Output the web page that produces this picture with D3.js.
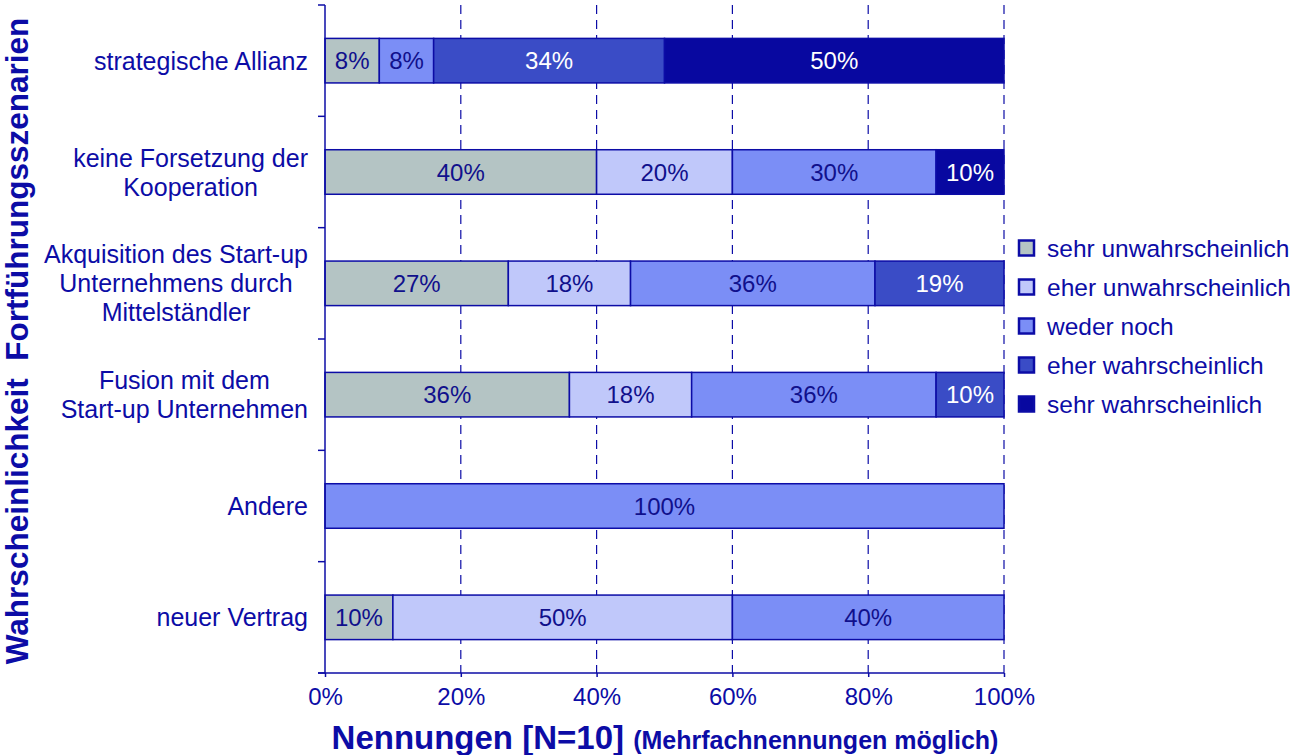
<!DOCTYPE html>
<html><head><meta charset="utf-8">
<script src="https://cdn.jsdelivr.net/npm/d3@7"></script>
<style>
body{margin:0;background:#fff;}
text{font-family:"Liberation Sans",Arial,sans-serif;}
</style></head>
<body><svg id="c" width="1294" height="755"></svg>
<script>
const categories = [
  ["strategische Allianz"],
  ["keine Forsetzung der","Kooperation"],
  ["Akquisition des Start-up","Unternehmens durch","Mittelständler"],
  ["Fusion mit dem","Start-up Unternehmen"],
  ["Andere"],
  ["neuer Vertrag"]
];
const seriesNames = ["sehr unwahrscheinlich","eher unwahrscheinlich","weder noch","eher wahrscheinlich","sehr wahrscheinlich"];
const sehrUnw   = [8, 40, 27, 36, 0, 10];
const eherUnw   = [0, 20, 18, 18, 0, 50];
const wederNoch = [8, 30, 36, 36, 100, 40];
const eherWahr  = [34, 0, 19, 10, 0, 0];
const sehrWahr  = [50, 10, 0, 0, 0, 0];
const xTicks = [0, 20, 40, 60, 80, 100];

const series = [sehrUnw, eherUnw, wederNoch, eherWahr, sehrWahr];
const colors = ["#b4c4c4","#c0c8fa","#7b8ef6","#3a4cc6","#0808a0"];
const labelColors = ["#10108c","#10108c","#10108c","#ffffff","#ffffff"];
const navy = "#0c0ca6";
const FS = 25;

const svg = d3.select("#c");
const m = {left:325, right:1004, top:5, bottom:673};
const x = d3.scaleLinear().domain([0,100]).range([m.left, m.right]);
const y = d3.scaleBand().domain(d3.range(categories.length)).range([m.top, m.bottom]).paddingInner(0.6).paddingOuter(0.3);

// gridlines
svg.append("g").selectAll("line").data(xTicks.filter(d=>d>0)).join("line")
  .attr("x1", d=>x(d)).attr("x2", d=>x(d)).attr("y1", m.top).attr("y2", m.bottom)
  .attr("stroke", navy).attr("stroke-width",1.2).attr("stroke-dasharray","9,6");

// stacked data
const rows = categories.map((c,i)=>{ const o={}; series.forEach((s,k)=>o[k]=s[i]); return o; });
const stack = d3.stack().keys(d3.range(series.length))(rows);

const g = svg.append("g");
stack.forEach((layer,k)=>{
  layer.forEach((d,i)=>{
    if (d[1]-d[0] <= 0) return;
    g.append("rect").attr("x", x(d[0])).attr("y", y(i)).attr("width", x(d[1])-x(d[0])).attr("height", y.bandwidth())
      .attr("fill", colors[k]).attr("stroke", navy).attr("stroke-width",1.5);
    g.append("text").attr("x",(x(d[0])+x(d[1]))/2).attr("y", y(i)+y.bandwidth()/2).attr("dy","0.36em")
      .attr("text-anchor","middle").attr("font-size",24).attr("fill",labelColors[k]).text((d[1]-d[0])+"%");
  });
});

// y axis
const yb = d3.range(categories.length+1).map(i=> m.top + i*(m.bottom-m.top)/categories.length);
svg.append("line").attr("x1",m.left).attr("x2",m.left).attr("y1",m.top).attr("y2",m.bottom).attr("stroke",navy).attr("stroke-width",1.5);
svg.append("g").selectAll("line").data(yb).join("line")
  .attr("x1",m.left-7).attr("x2",m.left).attr("y1",d=>d).attr("y2",d=>d).attr("stroke",navy).attr("stroke-width",1.5);

// x axis
const xa = svg.append("g").attr("transform",`translate(0,${m.bottom})`)
  .call(d3.axisBottom(x).tickValues(xTicks).tickFormat(d=>d+"%").tickSize(4).tickPadding(11));
xa.select(".domain").attr("stroke",navy).attr("stroke-width",1.5).attr("d",`M${m.left-7},0H${m.right}`);
xa.selectAll(".tick line").attr("stroke",navy).attr("stroke-width",1.5);
xa.selectAll(".tick text").attr("fill",navy).attr("font-size",24).attr("font-family","Liberation Sans, Arial, sans-serif");

// category labels
categories.forEach((lines,i)=>{
  const cy = y(i)+y.bandwidth()/2;
  const lh = 29;
  const t = svg.append("g");
  const texts = lines.map((l,j)=> t.append("text").attr("y", cy + (j-(lines.length-1)/2)*lh).attr("dy","0.36em")
      .attr("font-size",FS).attr("fill",navy).attr("text-anchor","middle").text(l));
  const w = d3.max(texts, tt=>tt.node().getComputedTextLength());
  texts.forEach(tt=>tt.attr("x", 308 - w/2));
});

// legend
const lg = svg.append("g");
seriesNames.forEach((n,k)=>{
  const ly = 248 + k*39;
  lg.append("rect").attr("x",1019).attr("y",ly-7.5).attr("width",15).attr("height",15)
    .attr("fill",colors[k]).attr("stroke",navy).attr("stroke-width",2.5);
  lg.append("text").attr("x",1047).attr("y",ly).attr("dy","0.36em").attr("font-size",24.5).attr("fill",navy).text(n);
});

// axis titles
const xt = svg.append("text").attr("x",665).attr("y",749).attr("text-anchor","middle").attr("fill",navy).attr("font-weight","bold");
xt.append("tspan").attr("font-size",33).text("Nennungen [N=10] ");
xt.append("tspan").attr("font-size",25).text("(Mehrfachnennungen möglich)");

svg.append("text").attr("transform","translate(28,341) rotate(-90)").attr("text-anchor","middle")
  .attr("fill",navy).attr("font-weight","bold").attr("font-size",31.5).attr("xml:space","preserve")
  .text("Wahrscheinlichkeit  Fortführungsszenarien");
</script></body></html>
